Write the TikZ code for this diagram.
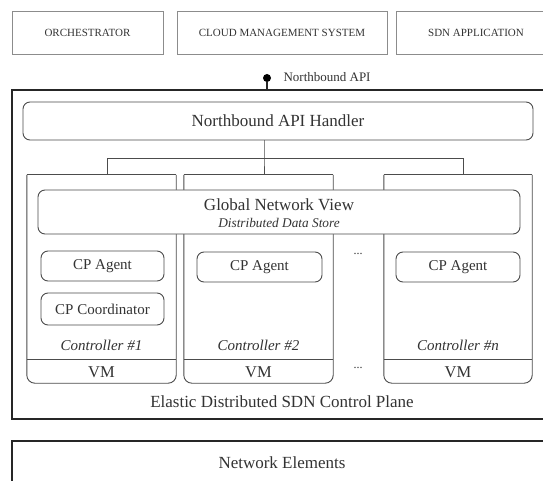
\documentclass[tikz,border=0pt]{standalone}
\usepackage{fontspec}
\setmainfont{Liberation Serif}
\begin{document}
\begin{tikzpicture}[x=1pt,y=-1pt,
  txt/.style={text=black!80},
  topbox/.style={draw=black!45, line width=0.9pt, inner sep=0pt, txt, font=\fontsize{11}{13}\selectfont},
  rbox/.style={draw=black!70, line width=0.9pt, rounded corners=7pt, fill=white, inner sep=0pt, txt},
  ghost/.style={inner sep=0pt},
  ln/.style={draw=black!70, line width=0.9pt},
  big/.style={font=\fontsize{17}{20}\selectfont},
  mid/.style={font=\fontsize{15}{18}\selectfont},
]
\clip (0,0) rectangle (543,481);
\fill[white] (0,0) rectangle (543,481);

% top boxes
\node[topbox, minimum width=151, minimum height=43] (orch) at (87.5,32.5) {ORCHESTRATOR};
\node[topbox, minimum width=210, minimum height=43] (cms) at (282,32.5) {CLOUD MANAGEMENT SYSTEM};
\node[topbox, minimum width=160, minimum height=43] (sdn) at (476,32.5) {SDN APPLICATION};

% main control plane box
\node[draw=black!85, line width=1.1pt, inner sep=0pt, minimum width=553, minimum height=329] (cp) at (288.5,254.5) {};
\node[txt, big] (cplabel) at (282,402) {Elastic Distributed SDN Control Plane};

% northbound api dot
\node[circle, fill=black, inner sep=0pt, minimum size=8] (dot) at (267,78) {};
\node[txt, anchor=west, font=\fontsize{13}{15}\selectfont] (nbl) at (280,77) {Northbound API};
\draw[line width=1.1pt, black!85] (dot) -- (dot |- cp.north);

% handler
\node[rbox, big, minimum width=510, minimum height=38] (handler) at (278,121) {Northbound API Handler};

% controllers
\node[ghost, minimum width=149, minimum height=208] (c1) at (101.5,279) {};
\node[ghost, minimum width=149, minimum height=208] (c2) at (258.5,279) {};
\node[ghost, minimum width=148, minimum height=208] (cn) at (458,279) {};
\foreach \c in {c1,c2,cn}{
  \draw[ln, rounded corners=8pt] (\c.north west) -- (\c.south west) -- (\c.south east) -- (\c.north east);
  \draw[ln] (\c.north west) -- (\c.north east);
  \draw[ln] ([yshift=24pt]\c.south west) -- ([yshift=24pt]\c.south east);
}

% bus
\coordinate (bl) at (107,158);
\coordinate (bc) at (264,158);
\coordinate (br) at (463,158);
\draw[ln] (bc |- handler.south) -- (bc) -- (bc |- c2.north);
\draw[ln] (bl |- c1.north) -- (bl) -- (br) -- (br |- cn.north);

% global network view
\node[rbox, minimum width=482, minimum height=44] (gnv) at (279,212) {};
\node[txt, big] (gnvt) at (279,205) {Global Network View};
\node[txt, font=\fontsize{13.3}{15}\selectfont\itshape] (gnvs) at (279,223) {Distributed Data Store};

% agents
\node[rbox, mid, minimum width=123, minimum height=30] (a1) at (102.5,266) {CP Agent};
\node[rbox, mid, minimum width=123, minimum height=32] (k1) at (102.5,309) {CP Coordinator};
\node[rbox, mid, minimum width=125, minimum height=30] (a2) at (259.5,267) {CP Agent};
\node[rbox, mid, minimum width=124, minimum height=30] (an) at (458,267) {CP Agent};

% controller labels
\node[txt, font=\fontsize{15}{18}\selectfont\itshape] (l1) at (101.5,345) {Controller \#1};
\node[txt, font=\fontsize{15}{18}\selectfont\itshape] (l2) at (258.5,345) {Controller \#2};
\node[txt, font=\fontsize{15}{18}\selectfont\itshape] (ln) at (458,345) {Controller \#n};

% VM labels
\node[txt, font=\fontsize{16.5}{18}\selectfont] (v1) at (101.5,372) {VM};
\node[txt, font=\fontsize{16.5}{18}\selectfont] (v2) at (258.5,372) {VM};
\node[txt, font=\fontsize{16.5}{18}\selectfont] (vn) at (458,372) {VM};

% dots
\node[txt, font=\fontsize{12}{14}\selectfont] (d1) at (358,254) {...};
\node[txt, font=\fontsize{12}{14}\selectfont] (d2) at (358,368) {...};

% network elements
\node[draw=black!85, line width=1.1pt, inner sep=0pt, minimum width=553, minimum height=70] (ne) at (288.5,476) {};
\node[txt, big] (net) at (282,463) {Network Elements};
\end{tikzpicture}
\end{document}
